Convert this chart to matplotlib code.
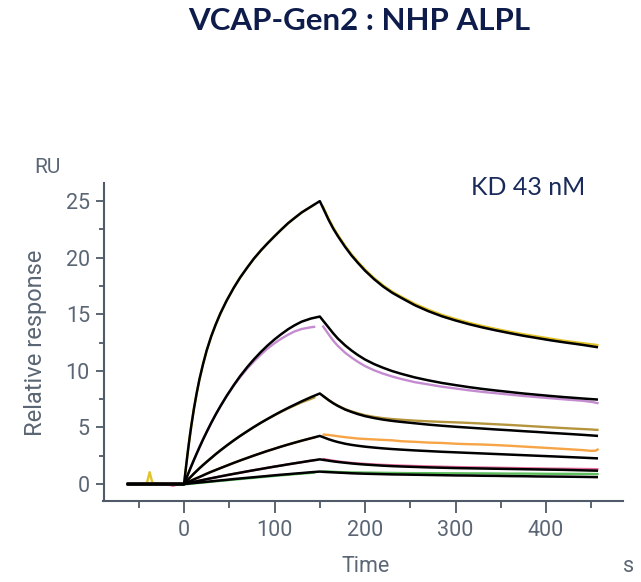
import numpy as np
import matplotlib
matplotlib.use('Agg')
import matplotlib.pyplot as plt

# %% Data (time in s, response in RU)
nan = np.nan

# fitted curves (black)
t_fit = [-62, 0, 2, 4, 6, 8, 11, 14, 17, 21, 25, 30, 35, 40, 47, 55, 62, 70, 77, 85, 92,
         100, 107, 115, 122, 130, 140, 150, 155, 160, 165, 170, 178, 185, 192, 200, 210,
         220, 230, 240, 255, 270, 285, 300, 315, 330, 345, 360, 375, 390, 405, 420, 440, 456]

fit1 = [0, 0, 1.4, 2.75, 4.0, 5.15, 6.7, 8.05, 9.25, 10.6, 11.8, 13.05, 14.1, 15.05, 16.2,
        17.35, 18.25, 19.15, 19.9, 20.65, 21.25, 21.9, 22.45, 23.05, 23.5, 24.0, 24.5, 25.0,
        24.15, 23.3, 22.55, 21.9, 20.95, 20.2, 19.55, 18.85, 18.1, 17.45, 16.9, 16.45, 15.8,
        15.27, 14.82, 14.45, 14.12, 13.83, 13.57, 13.33, 13.1, 12.9, 12.7, 12.52, 12.3, 12.1]
fit2 = [0, 0, 0.4, 0.8, 1.19, 1.58, 2.15, 2.7, 3.24, 3.94, 4.6, 5.4, 6.15, 6.85, 7.78,
        8.75, 9.54, 10.35, 11.0, 11.68, 12.22, 12.78, 13.22, 13.68, 14.02, 14.35, 14.62, 14.8,
        14.3, 13.8, 13.3, 12.85, 12.25, 11.8, 11.4, 11.0, 10.6, 10.27, 9.98, 9.74, 9.42,
        9.16, 8.93, 8.74, 8.56, 8.4, 8.26, 8.13, 8.0, 7.89, 7.78, 7.68, 7.56, 7.47]
fit3 = [0, 0, 0.176, 0.35, 0.52, 0.68, 0.93, 1.16, 1.39, 1.68, 1.96, 2.3, 2.64, 2.96, 3.39,
        3.86, 4.25, 4.67, 5.03, 5.42, 5.74, 6.1, 6.4, 6.73, 7.0, 7.31, 7.67, 8.0,
        7.7, 7.4, 7.13, 6.9, 6.58, 6.37, 6.18, 6.0, 5.83, 5.69, 5.58, 5.49, 5.37,
        5.25, 5.15, 5.06, 4.98, 4.9, 4.82, 4.75, 4.67, 4.6, 4.52, 4.45, 4.35, 4.26]
fit4 = [0, 0, 0.076, 0.15, 0.23, 0.3, 0.415, 0.52, 0.62, 0.765, 0.91, 1.08, 1.24, 1.4, 1.62,
        1.87, 2.08, 2.31, 2.51, 2.73, 2.92, 3.12, 3.3, 3.49, 3.65, 3.83, 4.04, 4.25,
        4.1, 3.95, 3.82, 3.71, 3.56, 3.46, 3.38, 3.3, 3.22, 3.15, 3.09, 3.04, 2.97,
        2.91, 2.85, 2.8, 2.75, 2.7, 2.65, 2.6, 2.55, 2.5, 2.45, 2.4, 2.33, 2.27]
fit5 = [0, 0, 0.035, 0.07, 0.105, 0.14, 0.195, 0.245, 0.295, 0.36, 0.43, 0.51, 0.59, 0.67, 0.78,
        0.9, 1.0, 1.12, 1.22, 1.33, 1.43, 1.54, 1.63, 1.74, 1.83, 1.93, 2.06, 2.18,
        2.12, 2.06, 2.0, 1.95, 1.88, 1.82, 1.77, 1.72, 1.67, 1.62, 1.58, 1.55, 1.51,
        1.47, 1.44, 1.41, 1.39, 1.37, 1.35, 1.33, 1.31, 1.29, 1.27, 1.25, 1.21, 1.18]
fit6 = [0, 0, 0.016, 0.032, 0.048, 0.064, 0.088, 0.112, 0.136, 0.168, 0.2, 0.24, 0.28, 0.32, 0.37,
        0.44, 0.49, 0.55, 0.6, 0.66, 0.71, 0.77, 0.82, 0.87, 0.92, 0.97, 1.04, 1.1,
        1.07, 1.05, 1.03, 1.01, 0.98, 0.95, 0.93, 0.91, 0.89, 0.87, 0.85, 0.84, 0.82,
        0.8, 0.78, 0.76, 0.75, 0.73, 0.72, 0.7, 0.69, 0.67, 0.66, 0.65, 0.63, 0.61]

# measured curves (coloured), gap at the injection stop
t_data = [-62, -50, -41, -38, -35, -20, -12, -6,
          0, 2, 4, 6, 8, 11, 14, 17, 21, 25, 30, 35, 40, 47, 55, 62, 70, 77, 85, 92,
          100, 107, 115, 122, 130, 140, 145, 148,
          153, 160, 165, 170, 178, 185, 192, 200, 210, 220, 230, 240, 255, 270, 285, 300,
          315, 330, 345, 360, 375, 390, 405, 420, 440, 450, 455, 458]

yellow = [0, 0, 0.1, 1.05, 0.1, 0, 0, 0,
          0, 1.4, 2.75, 4.0, 5.15, 6.7, 8.05, 9.25, 10.6, 11.8, 13.05, 14.1, 15.05, 16.2,
          17.35, 18.25, 19.15, 19.9, 20.65, 21.25, 21.9, 22.45, 23.05, 23.5, 24.0, 24.5, 24.75, nan,
          24.6, 23.4, 22.65, 22.0, 21.05, 20.3, 19.65, 18.95, 18.2, 17.55, 17.0, 16.55, 15.92,
          15.4, 14.95, 14.58, 14.25, 13.96, 13.7, 13.46, 13.24, 13.04, 12.85, 12.66, 12.45,
          12.35, 12.3, 12.25]
magenta = [0, 0, 0, 0, 0, 0, 0, 0,
           0, 0.4, 0.8, 1.19, 1.58, 2.15, 2.7, 3.24, 3.94, 4.6, 5.4, 6.15, 6.85, 7.75,
           8.7, 9.45, 10.22, 10.82, 11.45, 11.95, 12.45, 12.82, 13.2, 13.48, 13.7, 13.85, 13.9, nan,
           14.0, 13.2, 12.65, 12.2, 11.6, 11.18, 10.8, 10.42, 10.05, 9.75, 9.5, 9.28, 9.0,
           8.8, 8.6, 8.44, 8.28, 8.14, 8.02, 7.9, 7.78, 7.68, 7.58, 7.48, 7.36,
           7.26, 7.18, 7.13]
brown = [0, 0, 0, 0, 0, 0, 0, 0,
         0, 0.176, 0.35, 0.52, 0.68, 0.93, 1.16, 1.39, 1.68, 1.96, 2.3, 2.64, 2.96, 3.39,
         3.86, 4.25, 4.67, 5.03, 5.42, 5.74, 6.08, 6.37, 6.68, 6.94, 7.22, 7.52, 7.68, nan,
         7.8, 7.4, 7.15, 6.92, 6.62, 6.42, 6.25, 6.08, 5.93, 5.82, 5.74, 5.68, 5.6,
         5.54, 5.49, 5.45, 5.4, 5.34, 5.28, 5.22, 5.15, 5.08, 5.01, 4.94, 4.86,
         4.82, 4.79, 4.78]
orange = [0, 0, 0, 0, 0, 0, 0, 0,
          0, 0.076, 0.15, 0.23, 0.3, 0.415, 0.52, 0.62, 0.765, 0.91, 1.08, 1.24, 1.4, 1.62,
          1.87, 2.08, 2.31, 2.51, 2.73, 2.92, 3.12, 3.3, 3.49, 3.65, 3.83, 4.04, 4.12, nan,
          4.38, 4.33, 4.28, 4.22, 4.14, 4.08, 4.02, 3.98, 3.94, 3.9, 3.86, 3.78, 3.73,
          3.66, 3.63, 3.56, 3.52, 3.49, 3.44, 3.38, 3.31, 3.24, 3.17, 3.1, 3.0,
          2.93, 2.95, 3.1]
pink = [0, 0, 0, 0, 0, 0, -0.15, 0,
        0, 0.035, 0.07, 0.105, 0.14, 0.195, 0.245, 0.295, 0.36, 0.43, 0.51, 0.59, 0.67, 0.78,
        0.9, 1.0, 1.12, 1.22, 1.33, 1.43, 1.54, 1.63, 1.74, 1.83, 1.93, 2.06, 2.12, nan,
        2.22, 2.12, 2.06, 2.0, 1.92, 1.87, 1.82, 1.78, 1.73, 1.69, 1.66, 1.63, 1.59,
        1.56, 1.53, 1.5, 1.48, 1.46, 1.44, 1.42, 1.4, 1.38, 1.36, 1.35, 1.33,
        1.32, 1.31, 1.3]
green = [0, 0, 0, 0, 0, 0, 0, 0,
         -0.05, -0.02, 0.0, 0.02, 0.035, 0.06, 0.08, 0.1, 0.13, 0.16, 0.2, 0.24, 0.28, 0.33,
         0.39, 0.44, 0.5, 0.55, 0.61, 0.66, 0.72, 0.77, 0.82, 0.87, 0.92, 0.98, 1.02, nan,
         1.1, 1.1, 1.08, 1.06, 1.04, 1.03, 1.02, 1.01, 1.0, 0.99, 0.98, 0.97, 0.96,
         0.96, 0.95, 0.95, 0.94, 0.94, 0.93, 0.92, 0.92, 0.91, 0.9, 0.9, 0.89,
         0.89, 0.88, 0.88]

data_series = [yellow, magenta, brown, orange, pink, green]
data_colors = ['#e2c42a', '#c58bd0', '#b4953e', '#f6a445', '#e8699f', '#5cbf5c']
fit_series = [fit1, fit2, fit3, fit4, fit5, fit6]

# %% Figure
W, H = 641, 582
fig = plt.figure(figsize=(W / 100, H / 100), dpi=100)
ax = fig.add_axes([103.5 / W, 1 - 501 / H, (623 - 103.5) / W, (501 - 183) / H])

axis_col = '#4f5b69'
text_col = '#5b6675'

for vals, col in zip(data_series, data_colors):
    ax.plot(t_data, vals, color=col, lw=1.7, zorder=2, solid_capstyle='butt')
for vals in fit_series:
    ax.plot(t_fit, vals, color='black', lw=1.8, zorder=3, solid_joinstyle='round')

ax.set_xlim(-89, 485)
ax.set_ylim(-1.5, 26.6)

for side in ['top', 'right']:
    ax.spines[side].set_visible(False)
for side in ['left', 'bottom']:
    ax.spines[side].set_color(axis_col)
    ax.spines[side].set_linewidth(1.5)

ax.set_xticks([0, 100, 200, 300, 400])
ax.set_xticks([-50, 50, 150, 250, 350, 450], minor=True)
ax.set_yticks([0, 5, 10, 15, 20, 25])
ax.set_yticks([2.5, 7.5, 12.5, 17.5, 22.5], minor=True)

ax.tick_params(axis='x', which='major', length=8.4, width=1.3, color=axis_col,
               labelsize=15.5, labelcolor=text_col, pad=5)
ax.tick_params(axis='x', which='minor', length=5.3, width=1.3, color=axis_col)
ax.tick_params(axis='y', which='major', length=5.8, width=1.3, color=axis_col,
               labelsize=15.5, labelcolor=text_col, pad=4)
ax.tick_params(axis='y', which='minor', length=3.6, width=1.3, color=axis_col)
for lab in ax.get_xticklabels() + ax.get_yticklabels():
    lab.set_family('Roboto')

# labels
fig.text(36 / W, 1 - 342.5 / H, 'Relative response', rotation=90, ha='center', va='center',
         fontsize=17, color=text_col, family='Roboto')
fig.text(47 / W, 1 - 167.5 / H, 'RU', ha='center', va='center',
         fontsize=15, color=text_col, family='Roboto')
fig.text(366 / W, 1 - 567 / H, 'Time', ha='center', va='center',
         fontsize=15.5, color=text_col, family='Roboto')
fig.text(629 / W, 1 - 567 / H, 's', ha='center', va='center',
         fontsize=15.5, color=text_col, family='Roboto')

fig.text(359 / W, 1 - 21 / H, 'VCAP-Gen2 : NHP ALPL', ha='center', va='center',
         fontsize=22.5, fontweight='bold', color='#0d1c4a', family='Lato')
fig.text(528 / W, 1 - 187.5 / H, 'KD 43 nM', ha='center', va='center',
         fontsize=18, color='#1a2a5a', family='Lato')

fig.savefig('out.png', dpi=100)
